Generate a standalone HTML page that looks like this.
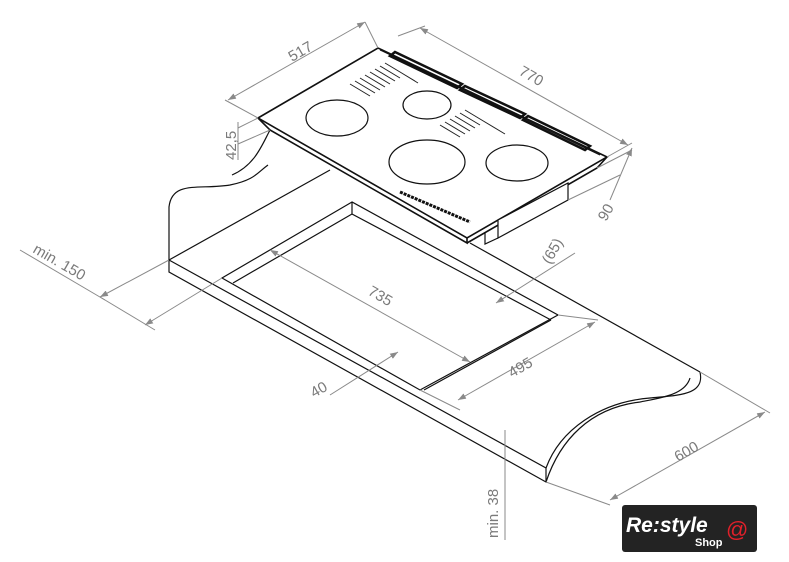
<!DOCTYPE html>
<html><head><meta charset="utf-8"><style>
html,body{margin:0;padding:0;background:#fff;width:789px;height:562px;overflow:hidden}
svg{display:block}
.d{stroke:#8a8a8a;stroke-width:1;fill:none}
.t{fill:#7a7a7a;font-family:"Liberation Sans",sans-serif;font-size:15px}
.k{stroke:#111;stroke-width:1.2;fill:none}
</style></head><body>
<svg width="789" height="562" viewBox="0 0 789 562">
<defs><marker id="a" markerWidth="8" markerHeight="6" refX="8" refY="3" orient="auto-start-reverse" markerUnits="userSpaceOnUse"><path d="M0,0L8,3L0,6z" fill="#8a8a8a"/></marker></defs>
<!-- countertop -->
<g class="k">
<path d="M169,260 L546,468 L546,482 L169,272 Z" fill="#fff"/>
<path d="M169,260 L169,207 C172,180 200,190 230,185 C255,180 258,172 268,165"/>
<path d="M169,260 L330,170"/>
<path d="M470,243 L700,372"/>
<path d="M700,372 C705,395 680,395 650,398 C600,402 560,430 546,468"/>
<path d="M690,378 C685,395 660,398 640,402 C590,408 560,440 546,482"/>
<!-- cutout -->
<path d="M352,202 L222,278 L420,390 L558,315 Z"/>
<path d="M352,202 L352,214 L551,320"/>
<path d="M352,214 L233,283"/>
<path d="M424,390 L551,320"/>
</g>
<!-- cooktop -->
<g class="k">
<path d="M258,118 L378,48 L607,157 L467,238 Z" fill="#fff" stroke-width="1.6"/>
<path d="M258,118 L270,130 L467,243 L467,238" stroke-width="1.6"/>
<path d="M467,243 L597,168 L607,157" stroke-width="1.6"/>
<path d="M498,220 L568,183 L568,200 L498,238 Z" fill="#fff"/>
<path d="M485,232 L485,244 L498,238"/>
<path d="M270,130 C262,145 255,165 232,175"/>
<ellipse cx="337" cy="118" rx="31" ry="18"/>
<ellipse cx="427" cy="105" rx="24" ry="14"/>
<ellipse cx="427" cy="162" rx="38" ry="22"/>
<ellipse cx="517" cy="163" rx="31" ry="18"/>
<path d="M380,50 L600,155" stroke-width="1"/>
<path d="M395,52 L462,84 L457,88 L390,56 Z" stroke-width="2.5"/>
<path d="M465,86 L525,114 L520,118 L460,90 Z" stroke-width="2.5"/>
<path d="M528,116 L590,146 L585,150 L523,120 Z" stroke-width="2.5"/>
<path d="M400,192 L470,222" stroke-width="3" stroke-dasharray="3 1"/>
</g>
<g stroke="#222" stroke-width="1">
<path d="M380,66 L400,78 M375,69 L395,81 M370,72 L390,84 M365,75 L385,87 M360,78 L380,90 M355,81 L375,93 M350,84 L370,96 M385,63 L405,75 M390,66 L410,78 M395,69 L415,81 M400,72 L418,83"/>
<path d="M465,110 L485,122 M460,113 L480,125 M455,116 L475,128 M450,119 L470,131 M445,122 L465,134 M440,125 L460,137 M470,113 L490,125 M475,116 L495,128 M480,119 L500,131 M485,122 L505,134"/>
</g>
<!-- dimensions -->
<g class="d">
<path d="M258,118 L225,100"/><path d="M378,48 L365,22"/>
<path d="M228,100 L365,22" marker-start="url(#a)" marker-end="url(#a)"/>
<path d="M420,28 L628,145" marker-start="url(#a)" marker-end="url(#a)"/>
<path d="M398,36 L425,26"/><path d="M607,157 L632,143"/>
<path d="M238,128 L258,118"/><path d="M238,144 L270,130"/>
<path d="M238,122 L238,160"/>
<path d="M568,200 L620,175"/><path d="M597,168 L632,150"/>
<path d="M632,148 L610,200" marker-start="url(#a)"/>
<path d="M20,250 L105,300"/>
<path d="M100,297 L169,260" marker-start="url(#a)"/>
<path d="M145,325 L222,278" marker-start="url(#a)"/>
<path d="M100,297 L155,330"/>
<path d="M270,250 L470,362" marker-start="url(#a)" marker-end="url(#a)"/>
<path d="M458,400 L595,322" marker-start="url(#a)" marker-end="url(#a)"/>
<path d="M420,390 L460,410"/><path d="M558,315 L598,320"/>
<path d="M330,395 L398,352" marker-end="url(#a)"/>
<path d="M496,303 L575,253" marker-start="url(#a)"/>
<path d="M546,482 L610,505"/><path d="M700,372 L770,413"/>
<path d="M610,500 L765,412" marker-start="url(#a)" marker-end="url(#a)"/>
<path d="M505,430 L505,540"/>
</g>
<g class="t">
<text transform="translate(292,62) rotate(-30)">517</text>
<text transform="translate(518,74) rotate(30)">770</text>
<text transform="translate(236,160) rotate(-90)">42,5</text>
<text transform="translate(606,222) rotate(-60)">90</text>
<text transform="translate(32,252) rotate(30)">min. 150</text>
<text transform="translate(367,294) rotate(30)">735</text>
<text transform="translate(512,378) rotate(-30)">495</text>
<text transform="translate(314,398) rotate(-30)">40</text>
<text transform="translate(550,265) rotate(-60)">(65)</text>
<text transform="translate(678,462) rotate(-30)">600</text>
<text transform="translate(498,538) rotate(-90)">min. 38</text>
</g>
<!-- logo -->
<rect x="622" y="505" width="135" height="47" rx="3" fill="#232323"/>
<text x="626" y="532" fill="#fff" font-family="Liberation Sans,sans-serif" font-size="21" font-style="italic" font-weight="bold">Re:style</text>
<text x="695" y="546" fill="#fff" font-family="Liberation Sans,sans-serif" font-size="11" font-weight="bold">Shop</text>
<text x="726" y="537" fill="#e0202a" font-family="Liberation Sans,sans-serif" font-size="22">@</text>
</svg>
</body></html>
